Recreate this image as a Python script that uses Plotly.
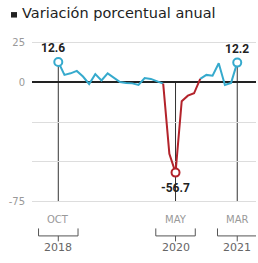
import plotly.graph_objects as go

months = ["Oct 2018", "Nov 2018", "Dec 2018", "Jan 2019", "Feb 2019", "Mar 2019", "Apr 2019",
          "May 2019", "Jun 2019", "Jul 2019", "Aug 2019", "Sep 2019", "Oct 2019", "Nov 2019",
          "Dec 2019", "Jan 2020", "Feb 2020", "Mar 2020", "Apr 2020", "May 2020", "Jun 2020",
          "Jul 2020", "Aug 2020", "Sep 2020", "Oct 2020", "Nov 2020", "Dec 2020", "Jan 2021",
          "Feb 2021", "Mar 2021"]
values = [12.6, 4.5, 5.5, 7.0, 3.5, -1.2, 5.0, 1.0, 5.5, 3.0, 0.0, -0.6, -0.8, -1.8,
          2.5, 2.0, 0.5, -1.0, -45.0, -56.7, -12.0, -8.5, -7.0, 2.0, 4.5, 4.0, 11.8, -1.8,
          -0.5, 12.2]
red_start, red_end = "Mar 2020", "Sep 2020"
highlight = ["Oct 2018", "May 2020", "Mar 2021"]
tick_months = ["OCT", "MAY", "MAR"]
tick_years = ["2018", "2020", "2021"]
y_ticks = [25, 0, -25, -50, -75]
y_ticktext = ["25", "0", "", "", "-75"]
title = "Variación porcentual anual"

BLUE = "#36aacd"
RED = "#b3232b"

idx = list(range(len(months)))
rs, re_ = months.index(red_start), months.index(red_end)
blue1 = [v if i <= rs else None for i, v in enumerate(values)]
blue2 = [v if i >= re_ else None for i, v in enumerate(values)]
red = [v if rs <= i <= re_ else None for i, v in enumerate(values)]

fig = go.Figure()
line_w = 2
for ser, col in ((blue1, BLUE), (blue2, BLUE), (red, RED)):
    fig.add_trace(go.Scatter(x=idx, y=ser, mode="lines", line=dict(color=col, width=line_w),
                             hoverinfo="skip", connectgaps=False))

shapes = []
for m in highlight:
    i = months.index(m)
    v = values[i]
    top = v if v > 0 else 0
    shapes.append(dict(type="line", xref="x", yref="y", x0=i, x1=i, y0=top, y1=-75,
                       line=dict(color="#333", width=1), layer="below"))
    col = RED if rs <= i <= re_ else BLUE
    fig.add_trace(go.Scatter(x=[i], y=[v], mode="markers",
                             marker=dict(symbol="circle", size=8, color="white",
                                         line=dict(color=col, width=2)),
                             hoverinfo="skip"))

W, H = 258, 263
L, R = 32, 2
top_px, bot_px = 39.0, 205.5
def ypap(p):
    return (bot_px - p) / (bot_px - top_px)
def xpap(p):
    return (p - L) / (W - L - R)

annotations = []
for k, m in enumerate(highlight):
    i = months.index(m)
    v = values[i]
    if v > 0:
        annotations.append(dict(x=i, y=v, xref="x", yref="y", text=f"<b>{v}</b>",
                                showarrow=False, yshift=14, xshift=-5 if k == 0 else 0,
                                font=dict(size=12, color="#222", family="Roboto")))
    else:
        annotations.append(dict(x=i, y=v, xref="x", yref="y", text=f"<b>{v}</b>",
                                showarrow=False, yshift=-15,
                                font=dict(size=12, color="#222", family="Roboto")))
    annotations.append(dict(x=i, y=ypap(220), xref="x", yref="paper", text=tick_months[k],
                            showarrow=False, yanchor="middle",
                            font=dict(size=10, color="#999", family="DejaVu Sans")))
    annotations.append(dict(x=i, y=ypap(248), xref="x", yref="paper", text=tick_years[k],
                            showarrow=False, yanchor="middle",
                            font=dict(size=11, color="#666", family="DejaVu Sans")))
    w = 3.2
    bl = dict(color="#555", width=1)
    shapes.append(dict(type="line", xref="x", yref="paper", x0=i - w, x1=i + w,
                       y0=ypap(236.5), y1=ypap(236.5), line=bl))
    shapes.append(dict(type="line", xref="x", yref="paper", x0=i - w, x1=i - w,
                       y0=ypap(236.5), y1=ypap(229), line=bl))
    shapes.append(dict(type="line", xref="x", yref="paper", x0=i + w, x1=i + w,
                       y0=ypap(236.5), y1=ypap(229), line=bl))
    shapes.append(dict(type="line", xref="x", yref="paper", x0=i, x1=i,
                       y0=ypap(236.5), y1=ypap(242), line=bl))

# title bullet + text
shapes.append(dict(type="rect", xref="paper", yref="paper", x0=xpap(11), x1=xpap(17),
                   y0=ypap(17.5), y1=ypap(12), fillcolor="#222", line=dict(width=0)))
annotations.append(dict(x=xpap(20), y=ypap(13), xref="paper", yref="paper",
                        text=title, showarrow=False,
                        xanchor="left", yanchor="middle",
                        font=dict(size=14.5, color="#222", family="DejaVu Sans")))

fig.update_layout(
    width=W, height=H,
    margin=dict(l=L, r=R, t=top_px, b=H - bot_px, pad=0),
    paper_bgcolor="white", plot_bgcolor="white",
    showlegend=False,
    xaxis=dict(range=[-4.26, 32.04], showgrid=False, zeroline=False, showticklabels=False,
               ticks="", showline=False, fixedrange=True),
    yaxis=dict(range=[-77, 27], tickvals=y_ticks, ticktext=y_ticktext, showgrid=True,
               gridcolor="#dddddd", gridwidth=1, zeroline=True, zerolinecolor="#222",
               zerolinewidth=1.5, showline=False, ticks="", ticklabelstandoff=6,
               tickfont=dict(size=10, color="#999", family="DejaVu Sans"), fixedrange=True),
    shapes=shapes, annotations=annotations,
)
fig.write_html("out.html", config={"displayModeBar": False},
               post_script="document.body.style.margin='0';document.body.style.padding='0';")
